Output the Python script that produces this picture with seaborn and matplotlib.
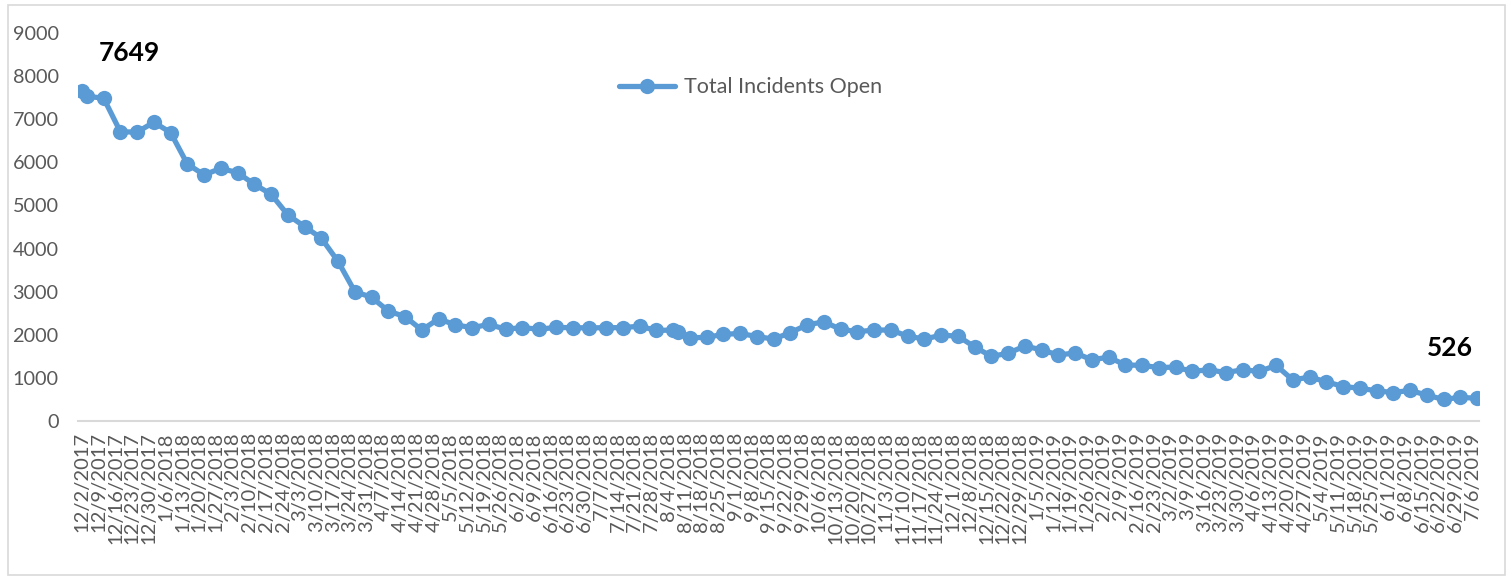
import pandas as pd
import numpy as np
import matplotlib
matplotlib.use("Agg")
import matplotlib.pyplot as plt
from matplotlib.patches import Rectangle
import seaborn as sns

# data (weekly Monday snapshots + two extra snapshots)
extra_dates = ["2017-12-02", "2018-08-08"]
weekly_dates = pd.date_range("2017-12-04", "2019-07-08", freq="7D")
dates = sorted(list(pd.to_datetime(extra_dates)) + list(weekly_dates))

open_counts = [7649, 7530, 7490, 6710, 6700, 6930, 6690, 5960, 5710, 5860,
               5760, 5490, 5260, 4780, 4510, 4240, 3700, 3000, 2870, 2550,
               2420, 2110, 2370, 2230, 2165, 2240, 2130, 2165, 2130, 2170,
               2165, 2160, 2165, 2165, 2200, 2100, 2110, 2060, 1930, 1940,
               2010, 2030, 1960, 1900, 2050, 2230, 2300, 2130, 2070, 2110,
               2110, 1970, 1900, 1990, 1970, 1720, 1500, 1570, 1740, 1650,
               1530, 1580, 1420, 1480, 1300, 1290, 1240, 1250, 1150, 1190,
               1120, 1190, 1150, 1290, 950, 1020, 910, 800, 760, 700,
               660, 710, 600, 500, 550, 526]

tick_dates = pd.date_range("2017-12-02", "2019-07-06", freq="7D")
tick_labels = [f"{d.month}/{d.day}/{d.year}" for d in tick_dates]
y_ticks = [0, 1000, 2000, 3000, 4000, 5000, 6000, 7000, 8000, 9000]

df = pd.DataFrame({"date": dates, "Total Incidents Open": open_counts})

sns.set_style("white")
plt.rcParams["font.family"] = ["Lato", "DejaVu Sans"]

blue = "#5B9BD5"
gray_txt = "#595959"
gray_line = "#D9D9D9"

fig = plt.figure(figsize=(15.12, 5.80), dpi=100)
ax = fig.add_axes([78 / 1512, 1 - 421 / 580, (1479 - 78) / 1512, (421 - 33) / 580])

sns.lineplot(data=df, x="date", y="Total Incidents Open", ax=ax, color=blue,
             linewidth=3.8, marker="o", markersize=11, markeredgewidth=0,
             label="Total Incidents Open")

ax.set_xlim(pd.Timestamp("2017-12-02") - pd.Timedelta(days=1.7),
            pd.Timestamp("2019-07-08") + pd.Timedelta(days=0.8))
ax.set_ylim(0, 9000)
ax.set_yticks(y_ticks)
ax.set_yticklabels([str(v) for v in y_ticks], fontsize=14.3, color=gray_txt)
ax.set_xticks(tick_dates)
ax.set_xticklabels(tick_labels, rotation=90, fontsize=14.5, color=gray_txt)
ax.tick_params(axis="x", length=5, width=1.2, color=gray_line, pad=3)
ax.tick_params(axis="y", length=0, pad=14)
ax.set_xlabel("")
ax.set_ylabel("")

for s in ["top", "right", "left"]:
    ax.spines[s].set_visible(False)
ax.spines["bottom"].set_color(gray_line)
ax.spines["bottom"].set_linewidth(1.5)

ax.annotate("7649", xy=(df["date"].iloc[0], open_counts[0]), xytext=(47, 38),
            textcoords="offset pixels", ha="center", va="center",
            fontsize=19, fontweight="bold", color="black")
ax.annotate("526", xy=(df["date"].iloc[-1], open_counts[-1]), xytext=(-27, 50),
            textcoords="offset pixels", ha="center", va="center",
            fontsize=19, fontweight="bold", color="black")

ax.legend(loc="center", bbox_to_anchor=(0.48, 0.86), frameon=False,
          fontsize=15.5, handlelength=2.6, handletextpad=0.4,
          labelcolor=gray_txt)

fig.patches.append(Rectangle((8 / 1512, 5 / 580), 1497 / 1512, 570 / 580,
                             transform=fig.transFigure, fill=False,
                             edgecolor=gray_line, linewidth=1.2))

fig.savefig("out.png", dpi=100)
